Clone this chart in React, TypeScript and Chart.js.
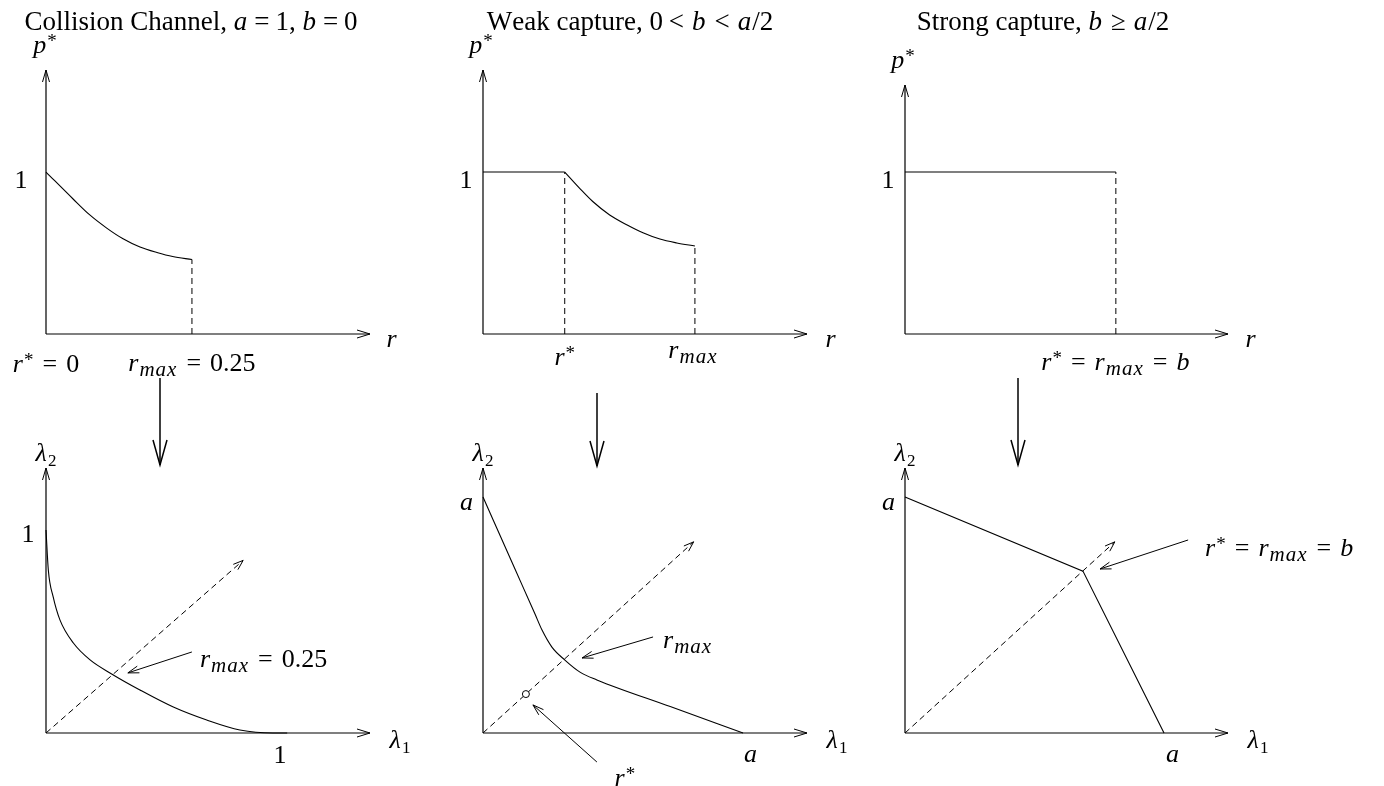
import React, { useEffect, useRef } from "react";
import { Chart, registerables } from "chart.js";

Chart.register(...registerables);

// ---------------- data ----------------
// Top-left: collision channel, optimal p*(r)
const collisionR = [0, 0.046, 0.075, 0.104, 0.132, 0.161, 0.19, 0.217, 0.25];
const collisionP = [1.0, 0.835, 0.735, 0.654, 0.588, 0.537, 0.503, 0.478, 0.46];
const collisionRMax = 0.25;

// Top-middle: weak capture
const weakPlateauR = [0, 0.14];
const weakPlateauP = [1, 1];
const weakR = [0.14, 0.166, 0.188, 0.217, 0.247, 0.274, 0.303, 0.332, 0.363];
const weakP = [1, 0.898, 0.818, 0.735, 0.673, 0.625, 0.586, 0.562, 0.543];
const weakRStar = 0.14;
const weakRMax = 0.363;

// Top-right: strong capture
const strongR = [0, 0.361];
const strongP = [1, 1];
const strongRMax = 0.361;

// Bottom-left: collision channel stability region boundary
const collisionL1 = [0, 0.01, 0.031, 0.06, 0.118, 0.19, 0.283, 0.405, 0.549, 0.693, 0.836, 0.978, 1.04];
const collisionL2 = [1.0, 0.803, 0.67, 0.557, 0.443, 0.36, 0.291, 0.212, 0.128, 0.064, 0.015, 0, 0];
const collisionDiag = [0, 0.85];
const collisionArrowFrom = [0.629, 0.399];
const collisionArrowTo = [0.353, 0.296];

// Bottom-middle: weak capture region boundary
const weakL1 = [0, 0.12, 0.2, 0.227, 0.265, 0.315, 0.373, 0.438, 0.72, 1.0];
const weakL2 = [1, 0.702, 0.504, 0.436, 0.364, 0.309, 0.258, 0.225, 0.112, 0];
const weakDiag = [0, 0.81];
const weakRStarPoint = [0.165, 0.165];
const weakRMaxArrowFrom = [0.654, 0.407];
const weakRMaxArrowTo = [0.381, 0.318];
const weakRStarArrowFrom = [0.438, -0.123];
const weakRStarArrowTo = [0.192, 0.119];

// Bottom-right: strong capture region boundary
const strongL1 = [0, 0.687, 1];
const strongL2 = [1, 0.686, 0];
const strongDiag = [0, 0.81];
const strongArrowFrom = [1.093, 0.818];
const strongArrowTo = [0.753, 0.695];

// ---------------- text helpers ----------------
type Seg = { t: string; it?: boolean; sub?: boolean; sup?: boolean; scale?: number; ls?: number; pad?: number };
type Label = { segs: Seg[]; at: number[]; dx: number; dy: number; align: "left" | "center" | "right" };

const FONT = '"Liberation Serif", "Times New Roman", serif';
const MATH = 26;
const TITLE = 27;

const it = (t: string): Seg => ({ t, it: true, ls: 1 });
const up = (t: string): Seg => ({ t });
const sub = (t: string, i = false, scale = 0.66): Seg => ({ t, sub: true, it: i, scale, ls: i ? 1 : 0 });
const sup = (t: string): Seg => ({ t, sup: true, scale: 0.72 });
const eqS = (pad: number): Seg => ({ t: "=", pad });

const pStar = [it("p"), sup("*")];
const rStar = [it("r"), sup("*")];
const rMax = [it("r"), sub("max", true, 0.8)];
const eq = eqS(9);
const teq = eqS(6);

function segFont(s: Seg, base: number) {
  const size = Math.round(base * (s.scale || 1));
  return `${s.it ? "italic " : ""}${size}px ${FONT}`;
}
function segWidth(ctx: CanvasRenderingContext2D, s: Seg, base: number) {
  ctx.font = segFont(s, base);
  const ls = s.ls || 0;
  return ctx.measureText(s.t).width + ls * s.t.length + 2 * (s.pad || 0);
}
function drawRich(ctx: CanvasRenderingContext2D, segs: Seg[], x: number, y: number, align: string, base: number) {
  let w = 0;
  for (const s of segs) w += segWidth(ctx, s, base);
  let cx = align === "center" ? x - w / 2 : align === "right" ? x - w : x;
  ctx.textBaseline = "alphabetic";
  ctx.textAlign = "left";
  ctx.fillStyle = "#000";
  for (const s of segs) {
    ctx.font = segFont(s, base);
    const dy = s.sub ? base * 0.2 : s.sup ? -base * 0.24 : 0;
    let px = cx + (s.pad || 0);
    const ls = s.ls || 0;
    for (const ch of s.t) {
      ctx.fillText(ch, px, y + dy);
      px += ctx.measureText(ch).width + ls;
    }
    cx += segWidth(ctx, s, base);
  }
}
function head(ctx: CanvasRenderingContext2D, tx: number, ty: number, fx: number, fy: number, len: number, hw: number) {
  const a = Math.atan2(ty - fy, tx - fx);
  const bx = tx - len * Math.cos(a);
  const by = ty - len * Math.sin(a);
  const px = -Math.sin(a) * hw;
  const py = Math.cos(a) * hw;
  ctx.beginPath();
  ctx.moveTo(bx + px, by + py);
  ctx.lineTo(tx, ty);
  ctx.lineTo(bx - px, by - py);
  ctx.stroke();
}

// ---------------- panel specs ----------------
type Box = { left: number; top: number; width: number; height: number };
type Area = { left: number; top: number; right: number; bottom: number };
interface PanelSpec {
  box: Box;
  area: Area;
  xMax: number;
  yMax: number;
  datasets: any[];
  labels: Label[];
  heads: { from: number[]; to: number[] }[];
  arrows: { from: number[]; to: number[] }[];
  title?: { segs: Seg[]; cx: number; baseline: number };
  down?: { x: number; y1: number; y2: number };
}

const pts = (xs: number[], ys: number[]) => xs.map((x, i) => ({ x, y: ys[i] }));
const solid = (xs: number[], ys: number[], smooth = false) => ({
  data: pts(xs, ys),
  showLine: true,
  borderColor: "#000",
  borderWidth: 1.1,
  pointRadius: 0,
  fill: false,
  clip: false,
  cubicInterpolationMode: smooth ? "monotone" : "default",
});
const dashed = (xs: number[], ys: number[]) => ({ ...solid(xs, ys), borderDash: [6, 4], borderWidth: 1 });

const colBoxTop = [
  { left: 0, top: 0, width: 455, height: 392 },
  { left: 455, top: 0, width: 423, height: 392 },
  { left: 878, top: 0, width: 506, height: 392 },
];
const colBoxBottom = [
  { left: 0, top: 370, width: 455, height: 416 },
  { left: 455, top: 370, width: 423, height: 416 },
  { left: 878, top: 370, width: 506, height: 416 },
];

const panels: PanelSpec[] = [
  {
    box: colBoxTop[0],
    area: { left: 46, top: 70, right: 370, bottom: 334 },
    xMax: 0.555,
    yMax: 1.63,
    datasets: [
      solid(collisionR, collisionP, true),
      dashed([collisionRMax, collisionRMax], [0, collisionP[collisionP.length - 1]]),
    ],
    labels: [
      { segs: pStar, at: [0, 1.63], dx: -1, dy: -17, align: "center" },
      { segs: [up("1")], at: [0, 1], dx: -25, dy: 16, align: "center" },
      { segs: [it("r")], at: [0.555, 0], dx: 22, dy: 13, align: "center" },
      { segs: [...rStar, eq, up("0")], at: [0, 0], dx: 0, dy: 38, align: "center" },
      { segs: [...rMax, eq, up("0.25")], at: [collisionRMax, 0], dx: 0, dy: 37, align: "center" },
    ],
    heads: [],
    arrows: [],
    title: {
      segs: [up("Collision Channel, "), it("a"), teq, up("1, "), it("b"), teq, up("0")],
      cx: 191,
      baseline: 30,
    },
  },
  {
    box: colBoxTop[1],
    area: { left: 483, top: 70, right: 807, bottom: 334 },
    xMax: 0.555,
    yMax: 1.63,
    datasets: [
      solid(weakPlateauR, weakPlateauP),
      solid(weakR, weakP, true),
      dashed([weakRStar, weakRStar], [0, 1]),
      dashed([weakRMax, weakRMax], [0, weakP[weakP.length - 1]]),
    ],
    labels: [
      { segs: pStar, at: [0, 1.63], dx: -2, dy: -17, align: "center" },
      { segs: [up("1")], at: [0, 1], dx: -17, dy: 16, align: "center" },
      { segs: [it("r")], at: [0.555, 0], dx: 24, dy: 13, align: "center" },
      { segs: rStar, at: [weakRStar, 0], dx: 0, dy: 31, align: "center" },
      { segs: rMax, at: [weakRMax, 0], dx: -2, dy: 24, align: "center" },
    ],
    heads: [],
    arrows: [],
    title: {
      segs: [up("Weak capture, 0"), { t: "<", pad: 8 }, it("b"), { t: "<", pad: 8 }, it("a"), up("/2")],
      cx: 630,
      baseline: 30,
    },
  },
  {
    box: colBoxTop[2],
    area: { left: 905, top: 85, right: 1228, bottom: 334 },
    xMax: 0.553,
    yMax: 1.537,
    datasets: [solid(strongR, strongP), dashed([strongRMax, strongRMax], [0, 1])],
    labels: [
      { segs: pStar, at: [0, 1.537], dx: -2, dy: -17, align: "center" },
      { segs: [up("1")], at: [0, 1], dx: -17, dy: 16, align: "center" },
      { segs: [it("r")], at: [0.553, 0], dx: 23, dy: 13, align: "center" },
      { segs: [...rStar, eq, ...rMax, eq, it("b")], at: [strongRMax, 0], dx: 0, dy: 36, align: "center" },
    ],
    heads: [],
    arrows: [],
    title: {
      segs: [up("Strong capture, "), it("b"), { t: "\u2265", pad: 8 }, it("a"), up("/2")],
      cx: 1043,
      baseline: 30,
    },
  },
  {
    box: colBoxBottom[0],
    area: { left: 46, top: 468, right: 370, bottom: 733 },
    xMax: 1.397,
    yMax: 1.305,
    datasets: [solid(collisionL1, collisionL2, true), dashed(collisionDiag, collisionDiag)],
    labels: [
      { segs: [it("\u03bb"), sub("2")], at: [0, 1.305], dx: 0, dy: -7, align: "center" },
      { segs: [up("1")], at: [0, 1], dx: -18, dy: 12, align: "center" },
      { segs: [it("\u03bb"), sub("1")], at: [1.397, 0], dx: 30, dy: 15, align: "center" },
      { segs: [up("1")], at: [1, 0], dx: 2, dy: 30, align: "center" },
      { segs: [...rMax, eq, up("0.25")], at: collisionArrowFrom, dx: 8, dy: 15, align: "left" },
    ],
    heads: [{ from: [0, 0], to: [collisionDiag[1], collisionDiag[1]] }],
    arrows: [{ from: collisionArrowFrom, to: collisionArrowTo }],
    down: { x: 160, y1: 378, y2: 465 },
  },
  {
    box: colBoxBottom[1],
    area: { left: 483, top: 468, right: 807, bottom: 733 },
    xMax: 1.246,
    yMax: 1.123,
    datasets: [
      {
        data: [{ x: weakRStarPoint[0], y: weakRStarPoint[1] }],
        showLine: false,
        pointRadius: 3.5,
        pointBackgroundColor: "#fff",
        pointBorderColor: "#000",
        pointBorderWidth: 1,
        clip: false,
      },
      solid(weakL1, weakL2, true),
      dashed(weakDiag, weakDiag),
    ],
    labels: [
      { segs: [it("\u03bb"), sub("2")], at: [0, 1.123], dx: 0, dy: -7, align: "center" },
      { segs: [it("a")], at: [0, 1], dx: -16, dy: 13, align: "center" },
      { segs: [it("\u03bb"), sub("1")], at: [1.246, 0], dx: 30, dy: 15, align: "center" },
      { segs: [it("a")], at: [1, 0], dx: 8, dy: 29, align: "center" },
      { segs: rMax, at: weakRMaxArrowFrom, dx: 10, dy: 11, align: "left" },
      { segs: rStar, at: weakRStarArrowFrom, dx: 28, dy: 24, align: "center" },
    ],
    heads: [{ from: [0, 0], to: [weakDiag[1], weakDiag[1]] }],
    arrows: [
      { from: weakRMaxArrowFrom, to: weakRMaxArrowTo },
      { from: weakRStarArrowFrom, to: weakRStarArrowTo },
    ],
    down: { x: 597, y1: 393, y2: 466 },
  },
  {
    box: colBoxBottom[2],
    area: { left: 905, top: 468, right: 1228, bottom: 733 },
    xMax: 1.247,
    yMax: 1.123,
    datasets: [solid(strongL1, strongL2), dashed(strongDiag, strongDiag)],
    labels: [
      { segs: [it("\u03bb"), sub("2")], at: [0, 1.123], dx: 0, dy: -7, align: "center" },
      { segs: [it("a")], at: [0, 1], dx: -16, dy: 13, align: "center" },
      { segs: [it("\u03bb"), sub("1")], at: [1.247, 0], dx: 30, dy: 15, align: "center" },
      { segs: [it("a")], at: [1, 0], dx: 9, dy: 29, align: "center" },
      { segs: [...rStar, eq, ...rMax, eq, it("b")], at: strongArrowFrom, dx: 17, dy: 16, align: "left" },
    ],
    heads: [{ from: [0, 0], to: [strongDiag[1], strongDiag[1]] }],
    arrows: [{ from: strongArrowFrom, to: strongArrowTo }],
    down: { x: 1018, y1: 378, y2: 465 },
  },
];

function overlayPlugin(spec: PanelSpec) {
  return {
    id: "overlay",
    beforeDatasetsDraw(chart: any) {
      const { ctx } = chart;
      const sx = chart.scales.x;
      const sy = chart.scales.y;
      const ox = sx.getPixelForValue(0);
      const oy = sy.getPixelForValue(0);
      const ex = sx.getPixelForValue(spec.xMax);
      const ty = sy.getPixelForValue(spec.yMax);
      ctx.save();
      ctx.strokeStyle = "#000";
      ctx.lineWidth = 1.2;
      ctx.setLineDash([]);
      ctx.beginPath();
      ctx.moveTo(ox, oy);
      ctx.lineTo(ex, oy);
      ctx.moveTo(ox, oy);
      ctx.lineTo(ox, ty);
      ctx.stroke();
      ctx.lineWidth = 1;
      head(ctx, ex, oy, ox, oy, 13, 4);
      head(ctx, ox, ty, ox, oy, 12, 3.5);
      ctx.restore();
    },
    afterDatasetsDraw(chart: any) {
      const { ctx } = chart;
      const sx = chart.scales.x;
      const sy = chart.scales.y;
      const px = (v: number[]) => [sx.getPixelForValue(v[0]), sy.getPixelForValue(v[1])];
      ctx.save();
      ctx.strokeStyle = "#000";
      ctx.lineWidth = 1;
      ctx.setLineDash([]);
      for (const h of spec.heads) {
        const [fx, fy] = px(h.from);
        const [tx, ty] = px(h.to);
        head(ctx, tx, ty, fx, fy, 10, 3.5);
      }
      for (const a of spec.arrows) {
        const [fx, fy] = px(a.from);
        const [tx, ty] = px(a.to);
        ctx.beginPath();
        ctx.moveTo(fx, fy);
        ctx.lineTo(tx, ty);
        ctx.stroke();
        head(ctx, tx, ty, fx, fy, 11, 3.5);
      }
      for (const l of spec.labels) {
        const [x, y] = px(l.at);
        drawRich(ctx, l.segs, x + l.dx, y + l.dy, l.align, MATH);
      }
      if (spec.title) {
        const t = spec.title;
        drawRich(ctx, t.segs, t.cx - spec.box.left, t.baseline - spec.box.top, "center", TITLE);
      }
      if (spec.down) {
        const d = spec.down;
        const x = d.x - spec.box.left;
        const y1 = d.y1 - spec.box.top;
        const y2 = d.y2 - spec.box.top;
        ctx.lineWidth = 1.5;
        ctx.beginPath();
        ctx.moveTo(x, y1);
        ctx.lineTo(x, y2);
        ctx.stroke();
        head(ctx, x, y2, x, y1, 25, 7);
      }
      ctx.restore();
    },
  };
}

function Panel({ spec }: { spec: PanelSpec }) {
  const ref = useRef<HTMLCanvasElement | null>(null);
  useEffect(() => {
    if (!ref.current) return;
    const { box, area } = spec;
    const chart = new Chart(ref.current, {
      type: "scatter",
      data: { datasets: spec.datasets },
      options: {
        animation: false,
        responsive: false,
        maintainAspectRatio: false,
        events: [],
        layout: {
          padding: {
            left: area.left - box.left,
            top: area.top - box.top,
            right: box.left + box.width - area.right,
            bottom: box.top + box.height - area.bottom,
          },
        },
        scales: {
          x: { type: "linear", min: 0, max: spec.xMax, display: false },
          y: { type: "linear", min: 0, max: spec.yMax, display: false },
        },
        plugins: { legend: { display: false }, tooltip: { enabled: false }, title: { display: false } },
      } as any,
      plugins: [overlayPlugin(spec) as any],
    });
    return () => chart.destroy();
  }, [spec]);
  const { box } = spec;
  return (
    <canvas
      ref={ref}
      width={box.width}
      height={box.height}
      style={{ position: "absolute", left: box.left, top: box.top, width: box.width, height: box.height }}
    />
  );
}

export default function App() {
  return (
    <div style={{ position: "fixed", left: 0, top: 0, width: 1384, height: 786, background: "#fff", overflow: "hidden" }}>
      {panels.map((p, i) => (
        <Panel key={i} spec={p} />
      ))}
    </div>
  );
}
